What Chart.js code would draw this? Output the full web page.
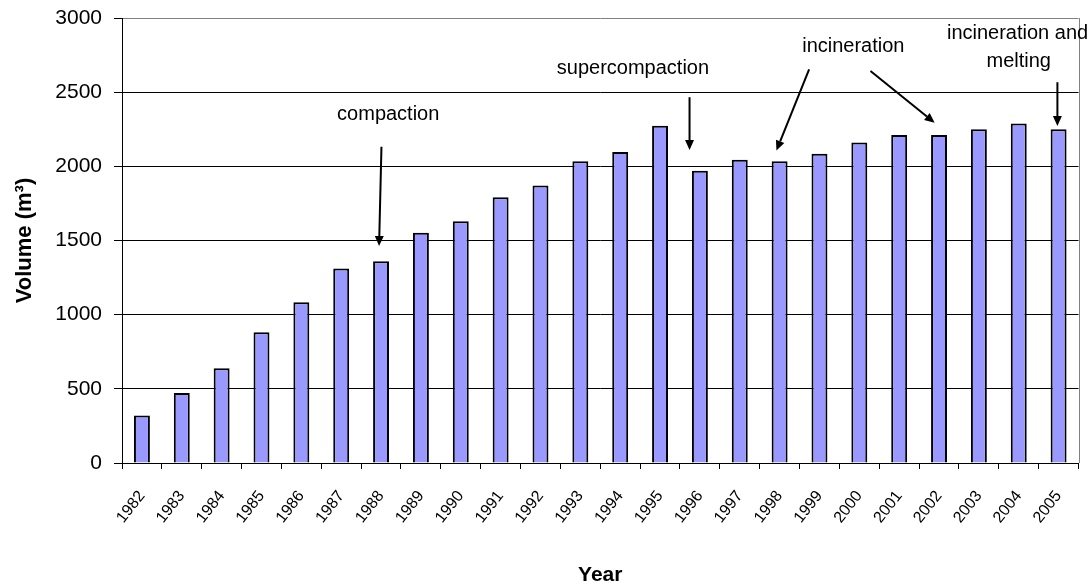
<!DOCTYPE html>
<html>
<head>
<meta charset="utf-8">
<script src="https://cdn.jsdelivr.net/npm/chart.js@4.4.1/dist/chart.umd.min.js"></script>
<style>
  html, body { margin: 0; padding: 0; background: #fff; }
  #wrap { width: 1092px; height: 588px; }
</style>
</head>
<body>
<div id="wrap"><canvas id="graphe" width="1092" height="588"></canvas></div>
<script>
// Données
const annees = ['1982', '1983', '1984', '1985', '1986', '1987', '1988', '1989', '1990', '1991', '1992', '1993',
                '1994', '1995', '1996', '1997', '1998', '1999', '2000', '2001', '2002', '2003', '2004', '2005'];
const volumes = [321, 472, 638, 881, 1083, 1312, 1360, 1553, 1629, 1791, 1870, 2034,
                 2097, 2274, 1971, 2045, 2034, 2085, 2160, 2211, 2211, 2250, 2288, 2250];
const ticksY = [0, 500, 1000, 1500, 2000, 2500, 3000];

// Annotations (position en index d'année / volume)
const annoTextes = ['compaction', 'supercompaction', 'incineration', 'incineration and', 'melting'];
const annoX = [6.18, 12.32, 17.85, 21.97, 22.0];
const annoY = [2348, 2663, 2805, 2894, 2708];

// Flèches (départ -> pointe)
const flecheDeX = [6.01, 13.74, 16.74, 18.28, 22.97];
const flecheDeY = [2132, 2466, 2654, 2643, 2567];
const flecheVersX = [5.95, 13.74, 15.92, 19.89, 22.97];
const flecheVersY = [1463, 2110, 2106, 2294, 2272];

const POLICE = "'Liberation Sans', Arial, sans-serif";

const pluginAnnotations = {
    id: 'annotations',
    afterDatasetsDraw(chart) {
        const ctx = chart.ctx;
        const sx = chart.scales.x, sy = chart.scales.y;
        const zone = chart.chartArea;
        ctx.save();
        // bordure droite grise
        ctx.strokeStyle = '#808080';
        ctx.lineWidth = 1;
        ctx.beginPath();
        ctx.moveTo(Math.round(zone.right) + 0.5, zone.top);
        ctx.lineTo(Math.round(zone.right) + 0.5, zone.bottom);
        ctx.stroke();

        // textes
        ctx.fillStyle = '#000';
        ctx.font = '20px ' + POLICE;
        ctx.textAlign = 'center';
        ctx.textBaseline = 'middle';
        annoTextes.forEach((t, i) => {
            ctx.fillText(t, sx.getPixelForValue(annoX[i]), sy.getPixelForValue(annoY[i]));
        });

        // flèches
        ctx.strokeStyle = '#000';
        ctx.lineWidth = 2;
        flecheDeX.forEach((_, i) => {
            const x1 = sx.getPixelForValue(flecheDeX[i]), y1 = sy.getPixelForValue(flecheDeY[i]);
            const x2 = sx.getPixelForValue(flecheVersX[i]), y2 = sy.getPixelForValue(flecheVersY[i]);
            const ang = Math.atan2(y2 - y1, x2 - x1);
            const lg = 10, la = 4.5;
            const bx = x2 - lg * Math.cos(ang), by = y2 - lg * Math.sin(ang);
            ctx.beginPath();
            ctx.moveTo(x1, y1);
            ctx.lineTo(bx, by);
            ctx.stroke();
            ctx.beginPath();
            ctx.moveTo(x2, y2);
            ctx.lineTo(bx + la * Math.sin(ang), by - la * Math.cos(ang));
            ctx.lineTo(bx - la * Math.sin(ang), by + la * Math.cos(ang));
            ctx.closePath();
            ctx.fill();
        });
        ctx.restore();
    }
};

new Chart(document.getElementById('graphe'), {
    type: 'bar',
    data: {
        labels: annees,
        datasets: [{
            label: 'Volume',
            data: volumes,
            backgroundColor: '#9999FF',
            borderColor: '#000',
            borderWidth: 2,
            categoryPercentage: 1,
            barPercentage: 0.4
        }]
    },
    options: {
        responsive: false,
        animation: false,
        devicePixelRatio: 1,
        layout: { padding: { top: 18, right: 13, left: 0, bottom: 0 } },
        plugins: { legend: { display: false }, tooltip: { enabled: false } },
        scales: {
            x: {
                grid: { display: true, drawOnChartArea: false, drawTicks: true, offset: true, tickLength: 6, color: '#000' },
                border: { color: '#000', width: 1 },
                ticks: {
                    color: '#000', font: { family: POLICE, size: 16 },
                    minRotation: 52, maxRotation: 52, padding: 18, autoSkip: false
                },
                title: {
                    display: true, text: 'Year', color: '#000',
                    font: { family: POLICE, size: 21, weight: 'bold' },
                    padding: { top: 0, bottom: 0 }
                },
                afterFit(scale) { scale.height = 125; }
            },
            y: {
                min: 0, max: 3000,
                afterBuildTicks(scale) { scale.ticks = ticksY.map(v => ({ value: v })); },
                grid: {
                    color: c => (c.tick && c.tick.value === 3000) ? '#808080' : '#000',
                    lineWidth: 1, tickLength: 8, tickColor: '#000'
                },
                border: { color: '#000', width: 1 },
                ticks: {
                    color: '#000', font: { family: POLICE, size: 21 }, padding: 12,
                    callback: v => String(v)
                },
                title: {
                    display: true, text: 'Volume (m³)', color: '#000',
                    font: { family: POLICE, size: 22, weight: 'bold' },
                    padding: { top: 12, bottom: 0 }
                },
                afterFit(scale) { scale.width = 122; scale.paddingTop = 0; scale.paddingBottom = 0; }
            }
        }
    },
    plugins: [pluginAnnotations]
});
</script>
</body>
</html>
